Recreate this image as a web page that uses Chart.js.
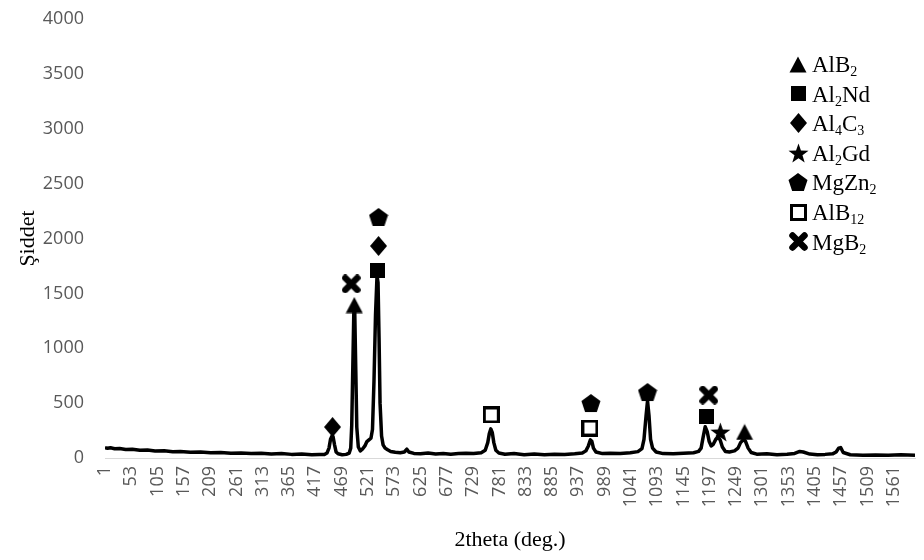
<!DOCTYPE html>
<html>
<head>
<meta charset="utf-8">
<script src="https://cdn.jsdelivr.net/npm/chart.js@4.4.1/dist/chart.umd.min.js"></script>
<style>
html,body{margin:0;padding:0;background:#fff;}
#wrap{width:924px;height:560px;position:relative;}
</style>
</head>
<body>
<div id="wrap"><canvas id="c" width="924" height="560"></canvas></div>
<script>
// ---------- DATA ----------
const tickLabels = [1,53,105,157,209,261,313,365,417,469,521,573,625,677,729,781,833,885,937,989,1041,1093,1145,1197,1249,1301,1353,1405,1457,1509,1561];
const yTicks = [0,500,1000,1500,2000,2500,3000,3500,4000];

// measured pattern: category index (x) and intensity (y)
const twoTheta = [1,6,12,20,30,42,55,70,85,100,118,135,150,170,190,210,230,250,270,290,310,330,350,370,390,410,425,435,
  440,444,447,450,452,455,458,462,470,478,484,487,489,491,493,494,495,497,499,502,506,510,515,519,523,527,530,533,536,539,541,543,545,548,551,555,560,566,575,585,593,598,602,612,625,640,655,670,685,700,715,730,745,
  753,758,761,764,767,770,774,780,792,810,830,850,870,890,910,930,945,952,957,961,964,967,972,985,1000,1020,1040,1055,1063,1067,1071,1074,1077,1080,1084,1091,1105,1125,1145,1165,1175,1180,1184,1188,1192,1196,1200,1204,1209,1214,1218,1222,1228,1236,1246,1253,1258,1264,1268,1273,1279,1290,1310,1330,1350,1365,1375,1382,1395,1410,1425,1440,1447,1452,1456,1461,1475,1500,1525,1550,1575,1603];
const intensity = [95,88,93,84,87,78,80,70,72,64,66,58,60,52,55,48,50,44,46,40,43,37,40,33,36,30,33,32,
  45,90,170,200,195,120,55,38,30,33,45,90,300,800,1300,1410,1320,800,280,100,65,80,110,150,165,180,260,700,1300,1660,1600,1100,500,200,120,90,75,60,52,48,55,80,55,42,38,45,36,42,35,40,44,40,48,
  70,140,220,265,230,140,70,45,35,40,30,36,30,35,32,38,45,65,110,165,150,90,55,40,44,40,48,58,85,170,380,520,380,170,90,55,40,38,44,48,60,90,190,285,240,150,110,125,170,190,160,100,60,55,65,90,140,170,150,90,50,35,38,30,35,42,60,55,36,30,33,38,55,90,95,50,30,25,28,25,29,26];

// phase labels
const phaseNames = ['AlB₂','Al₂Nd','Al₄C₃','Al₂Gd','MgZn₂','AlB₁₂','MgB₂'];
// phase marker positions (category, intensity)
const alb2X = [494,1266],        alb2Y = [1394,237];
const al2ndX = [540,1191],       al2ndY = [1704,374];
const al4c3X = [451,542],        al4c3Y = [282,1932];
const al2gdX = [1218],           al2gdY = [237];
const mgzn2X = [542,962,1074],   mgzn2Y = [2196,501,601];
const alb12X = [765,960],        alb12Y = [392,273];
const mgb2X = [488,1195],        mgb2Y = [1586,574];

// ---------- MARKER SHAPES ----------
function makeCanvas(w, h, draw) {
  const c = document.createElement('canvas');
  c.width = w; c.height = h;
  const g = c.getContext('2d');
  g.fillStyle = '#000'; g.strokeStyle = '#000';
  draw(g, w, h);
  return c;
}
const shapeTriangle = makeCanvas(18, 17, (g, w, h) => {
  g.beginPath(); g.moveTo(w/2, 0.5); g.lineTo(w-0.5, h-0.5); g.lineTo(0.5, h-0.5); g.closePath(); g.fill();
});
const shapeSquare = makeCanvas(15, 15, (g, w, h) => { g.fillRect(0, 0, w, h); });
const shapeDiamond = makeCanvas(17, 20, (g, w, h) => {
  g.beginPath(); g.moveTo(w/2, 0); g.lineTo(w, h/2); g.lineTo(w/2, h); g.lineTo(0, h/2); g.closePath(); g.fill();
});
const shapeStar = makeCanvas(21, 20, (g, w, h) => {
  const cx = w/2, cy = h/2 + 1, R = 10.5, r = 4.2;
  g.beginPath();
  for (let i = 0; i < 10; i++) {
    const a = -Math.PI/2 + i*Math.PI/5;
    const rad = i % 2 === 0 ? R : r;
    const px = cx + rad*Math.cos(a), py = cy + rad*Math.sin(a);
    if (i === 0) g.moveTo(px, py); else g.lineTo(px, py);
  }
  g.closePath(); g.fill();
});
const shapePentagon = makeCanvas(20, 20, (g, w, h) => {
  const cx = w/2, cy = h/2 + 1, R = 10;
  g.beginPath();
  for (let i = 0; i < 5; i++) {
    const a = -Math.PI/2 + i*2*Math.PI/5;
    const px = cx + R*Math.cos(a), py = cy + R*Math.sin(a);
    if (i === 0) g.moveTo(px, py); else g.lineTo(px, py);
  }
  g.closePath(); g.fill();
});
const shapeOpenSquare = makeCanvas(17, 17, (g, w, h) => {
  g.fillStyle = '#fff'; g.fillRect(0, 0, w, h);
  g.lineWidth = 3; g.strokeRect(1.5, 1.5, w-3, h-3);
});
const shapeX = makeCanvas(19, 19, (g, w, h) => {
  g.lineWidth = 6.5; g.lineCap = 'round';
  g.beginPath(); g.moveTo(3.5, 3.5); g.lineTo(w-3.5, h-3.5); g.moveTo(w-3.5, 3.5); g.lineTo(3.5, h-3.5); g.stroke();
});

const phaseShapes = [shapeTriangle, shapeSquare, shapeDiamond, shapeStar, shapePentagon, shapeOpenSquare, shapeX];
const phaseXs = [alb2X, al2ndX, al4c3X, al2gdX, mgzn2X, alb12X, mgb2X];
const phaseYs = [alb2Y, al2ndY, al4c3Y, al2gdY, mgzn2Y, alb12Y, mgb2Y];

// ---------- LEGEND (with subscripts) ----------
const SUBS = '₀₁₂₃₄₅₆₇₈₉';
function drawSubText(ctx, text, x, y, fs) {
  let cx = x;
  for (const ch of text) {
    const si = SUBS.indexOf(ch);
    if (si >= 0) {
      ctx.font = Math.round(fs*0.62) + 'px "Liberation Serif"';
      ctx.fillText(String(si), cx, y + fs*0.17);
      cx += ctx.measureText(String(si)).width;
    } else {
      ctx.font = fs + 'px "Liberation Serif"';
      ctx.fillText(ch, cx, y);
      cx += ctx.measureText(ch).width;
    }
  }
}
const phaseLegend = {
  id: 'phaseLegend',
  afterDraw(chart) {
    const ctx = chart.ctx;
    const sets = chart.data.datasets.filter(d => d.isPhase);
    const symX = 798, textX = 812, y0 = 64, dy = 29.6, fs = 23;
    ctx.save();
    ctx.fillStyle = '#000';
    ctx.textBaseline = 'alphabetic';
    ctx.textAlign = 'left';
    sets.forEach((ds, i) => {
      const y = y0 + i*dy;
      const img = ds.pointStyle;
      ctx.drawImage(img, Math.round(symX - img.width/2), Math.round(y - img.height/2));
      drawSubText(ctx, ds.label, textX, y + 8, fs);
    });
    ctx.restore();
  }
};

// ---------- CHART ----------
const datasets = [{
  label: 'XRD',
  data: twoTheta.map((x, i) => ({x: x, y: intensity[i]})),
  borderColor: '#000',
  borderWidth: 3.5,
  borderJoinStyle: 'round',
  pointRadius: 0,
  tension: 0,
  fill: false,
  order: 10
}];
phaseNames.forEach((name, k) => {
  datasets.push({
    label: name,
    isPhase: true,
    data: phaseXs[k].map((x, i) => ({x: x, y: phaseYs[k][i]})),
    showLine: false,
    pointStyle: phaseShapes[k],
    pointRadius: 8,
    pointHoverRadius: 8,
    order: 0
  });
});

new Chart(document.getElementById('c'), {
  type: 'line',
  data: { datasets: datasets },
  plugins: [phaseLegend],
  options: {
    responsive: false,
    devicePixelRatio: 1,
    animation: false,
    layout: { padding: { top: 19, right: 7, left: 0, bottom: 0 } },
    plugins: { legend: { display: false }, tooltip: { enabled: false } },
    scales: {
      x: {
        type: 'linear',
        min: 1,
        max: 1603,
        afterBuildTicks: s => { s.ticks = tickLabels.map(v => ({ value: v })); },
        afterFit: s => { s.height = 102; s.paddingLeft = 0; s.paddingRight = 0; },
        grid: { display: false, drawTicks: false },
        border: { display: true, color: '#d9d9d9', width: 1 },
        ticks: {
          autoSkip: false, minRotation: 90, maxRotation: 90, padding: 8,
          color: '#595959', font: { family: 'Open Sans', size: 18 },
          callback: v => String(v)
        },
        title: { display: true, text: '2theta (deg.)', color: '#000',
          font: { family: 'Liberation Serif', size: 22 }, padding: { top: 0, bottom: 7 } }
      },
      y: {
        min: 0,
        max: 4000,
        afterBuildTicks: s => { s.ticks = yTicks.map(v => ({ value: v })); },
        afterFit: s => { s.width = 105; s.paddingTop = 0; s.paddingBottom = 0; },
        grid: { display: false, drawTicks: false },
        border: { display: false },
        ticks: { padding: 21, color: '#595959', font: { family: 'Open Sans', size: 18 },
          callback: v => String(v) },
        title: { display: true, text: 'Şiddet', color: '#000',
          font: { family: 'Liberation Serif', size: 22 }, padding: { top: 15, bottom: 0 } }
      }
    }
  }
});
</script>
</body>
</html>
